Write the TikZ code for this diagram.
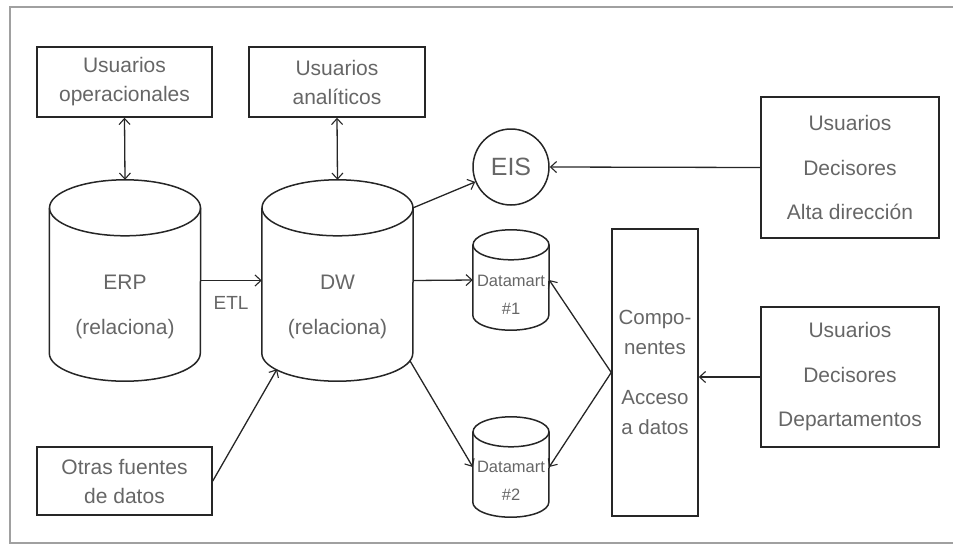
\documentclass[tikz,border=0pt]{standalone}
\usepackage{fontspec}
\setmainfont{Liberation Sans}
\usepackage{xcolor}
\usetikzlibrary{shapes,arrows,positioning,calc}
\usetikzlibrary{arrows.meta}
\definecolor{linec}{HTML}{262626}
\definecolor{txtc}{HTML}{666666}
\definecolor{framec}{HTML}{A0A0A0}
\tikzset{
  box/.style={draw=linec, line width=1.5pt, text=txtc, align=center, inner sep=0pt},
  db/.style={rectangle, inner sep=0pt},
  dbline/.style={draw=linec, line width=1.5pt},
  lbl/.style={text=txtc, align=center, inner sep=0pt},
  tip/.tip={Straight Barb[length=6pt,width=11pt,line width=1.1pt]},
  edge/.style={draw=linec, line width=1.3pt, -tip},
  biedge/.style={draw=linec, line width=1.3pt, tip-tip},
  bigtxt/.style={font=\fontsize{21}{29}\selectfont},
  widetxt/.style={font=\fontsize{21}{44.5}\selectfont},
  dmtxt/.style={font=\fontsize{16.5}{28}\selectfont},
}
% database drawn over a named node: name, x radius, y radius
\newcommand{\dbdraw}[3]{%
  \draw[dbline] ($(#1.north)+(0,#3)$) ellipse[x radius=#2pt, y radius=#3pt];
  \draw[dbline] ($(#1.north west)+(0,#3)$) -- ($(#1.south west)-(0,#3)$)
    arc[start angle=180, end angle=360, x radius=#2pt, y radius=#3pt]
    -- ($(#1.north east)+(0,#3)$);
}
\begin{document}
\begin{tikzpicture}[x=1pt,y=-1pt]
\useasboundingbox (0,0) rectangle (953,544);
\draw[framec, line width=1.5pt] (960,7) -- (10,7) -- (10,543) -- (960,543);
% nodes
\node[box, bigtxt, minimum width=175pt, minimum height=70pt] (uop) at (124.5,82) {Usuarios\\operacionales};
\node[box, bigtxt, minimum width=176pt, minimum height=70pt] (uan) at (337,82) {Usuarios\\anal\'iticos};
\node[db, minimum width=151pt, minimum height=201pt] (erp) at (125,280.5) {};
\node[db, minimum width=151pt, minimum height=201pt] (dw) at (337.5,280.5) {};
\dbdraw{erp}{75.5}{28}
\dbdraw{dw}{75.5}{28}
\node[lbl, widetxt] (erptxt) at (125,307) {ERP\\(relaciona)};
\node[lbl, widetxt] (dwtxt) at (337.5,307) {DW\\(relaciona)};
\node[lbl, font=\fontsize{19}{22}\selectfont] (etl) at (231,303) {ETL};
\node[box, bigtxt, minimum width=175pt, minimum height=68pt] (otras) at (124.5,481) {Otras fuentes\\de datos};
\node[circle, draw=linec, line width=1.5pt, text=txtc, minimum size=76pt, inner sep=0pt,
      font=\fontsize{25}{28}\selectfont] (eis) at (511,167) {EIS};
\node[db, minimum width=76pt, minimum height=100pt] (dm1) at (511,280) {};
\node[db, minimum width=76pt, minimum height=100pt] (dm2) at (511,467) {};
\dbdraw{dm1}{38}{15}
\dbdraw{dm2}{38}{15}
\node[lbl, dmtxt] (dm1txt) at (511,295) {Datamart\\\#1};
\node[lbl, dmtxt] (dm2txt) at (511,481) {Datamart\\\#2};
\node[box, minimum width=86pt, minimum height=287pt, font=\fontsize{20.5}{29.5}\selectfont] (comp) at (655,372.5)
  {Compo-\\nentes\\[21pt]Acceso\\a datos};
\node[box, widetxt, minimum width=178pt, minimum height=141pt] (alta) at (850,167.5)
  {Usuarios\\Decisores\\Alta direcci\'on};
\node[box, widetxt, minimum width=178pt, minimum height=140pt] (dep) at (850,377)
  {Usuarios\\Decisores\\Departamentos};
% edges
\draw[biedge] (uop.south) -- (erp.north);
\draw[biedge] (uan.south) -- (dw.north);
\draw[edge] (erp.east) -- (dw.west);
\draw[edge] (otras.east) -- ($(dw.south)+(-60.5,-12)$);
\draw[edge] ($(dw.north east)+(0,28)$) -- (eis);
\draw[edge] (dw.east) -- (dm1.west);
\draw[edge] ($(dw.south east)+(-3,-20)$) -- (dm2.west);
\draw[edge] (alta.west) -- (eis.east);
\draw[edge] (comp.west) -- (dm1.east);
\draw[edge] (comp.west) -- (dm2.east);
\draw[edge] (dep.west) -- (dep.west -| comp.east);
\end{tikzpicture}
\end{document}
